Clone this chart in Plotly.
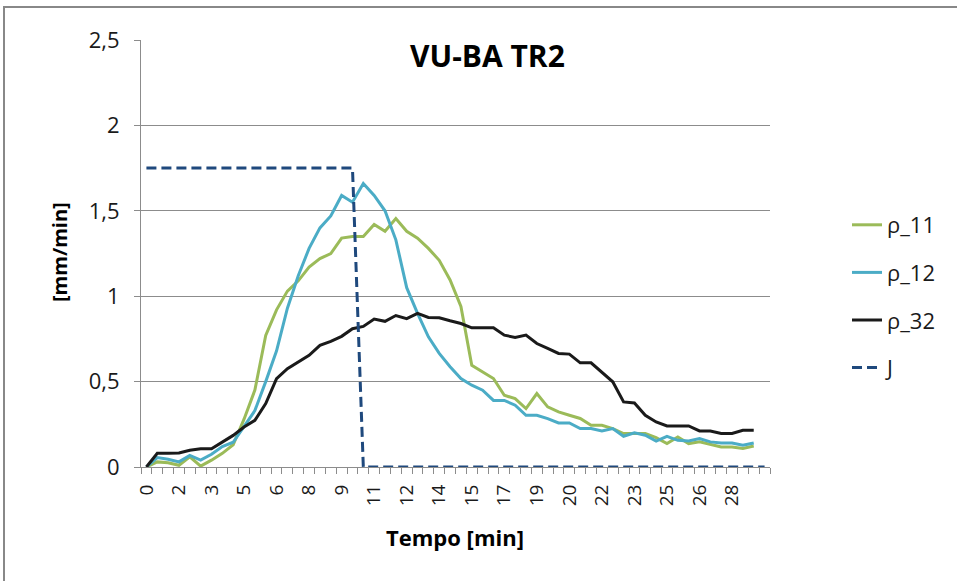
import plotly.graph_objects as go

# category positions (0..57) with tick labels every 3rd category
tick_positions = [0, 3, 6, 9, 12, 15, 18, 21, 24, 27, 30, 33, 36, 39, 42, 45, 48, 51, 54]
tick_labels = ["0", "2", "3", "5", "6", "8", "9", "11", "12", "14", "15", "17", "19",
               "20", "22", "23", "25", "26", "28"]

rho_11 = [0, 0.03, 0.025, 0.01, 0.06, 0.005, 0.04, 0.08, 0.13, 0.28,
          0.45, 0.77, 0.92, 1.03, 1.09, 1.17, 1.22, 1.25, 1.34, 1.35,
          1.35, 1.42, 1.38, 1.455, 1.38, 1.34, 1.28, 1.21, 1.095, 0.94,
          0.596, 0.557, 0.518, 0.42, 0.40, 0.342, 0.43, 0.352, 0.323, 0.303,
          0.284, 0.244, 0.244, 0.225, 0.196, 0.196, 0.196, 0.172, 0.137, 0.176,
          0.137, 0.147, 0.131, 0.117, 0.117, 0.108, 0.123]

rho_12 = [0, 0.055, 0.045, 0.03, 0.068, 0.04, 0.075, 0.12, 0.145, 0.24,
          0.33, 0.5, 0.68, 0.93, 1.12, 1.28, 1.40, 1.47, 1.59, 1.55,
          1.66, 1.59, 1.50, 1.33, 1.05, 0.90, 0.762, 0.665, 0.587, 0.518,
          0.479, 0.45, 0.39, 0.39, 0.362, 0.303, 0.303, 0.283, 0.258, 0.258,
          0.225, 0.225, 0.211, 0.225, 0.18, 0.20, 0.186, 0.152, 0.18, 0.156,
          0.152, 0.166, 0.147, 0.141, 0.141, 0.127, 0.141]

rho_32 = [0, 0.08, 0.08, 0.082, 0.098, 0.107, 0.107, 0.146, 0.185, 0.234,
          0.273, 0.371, 0.517, 0.576, 0.615, 0.654, 0.712, 0.735, 0.765, 0.81,
          0.823, 0.866, 0.853, 0.887, 0.869, 0.90, 0.876, 0.874, 0.856, 0.84,
          0.815, 0.815, 0.815, 0.772, 0.759, 0.772, 0.723, 0.694, 0.665, 0.661,
          0.61, 0.61, 0.557, 0.499, 0.381, 0.375, 0.303, 0.264, 0.24, 0.24,
          0.24, 0.211, 0.211, 0.196, 0.196, 0.215, 0.215]

J = [1.75, 1.75, 1.75, 1.75, 1.75, 1.75, 1.75, 1.75, 1.75, 1.75,
     1.75, 1.75, 1.75, 1.75, 1.75, 1.75, 1.75, 1.75, 1.75, 1.75,
     0, 0, 0, 0, 0, 0, 0, 0, 0, 0,
     0, 0, 0, 0, 0, 0, 0, 0, 0, 0,
     0, 0, 0, 0, 0, 0, 0, 0, 0, 0,
     0, 0, 0, 0, 0, 0, 0, 0]

FONT = "Open Sans"
GRID = "#8C8C8C"

fig = go.Figure()
series = [
    ("ρ_11", rho_11, "#9BBB59", "solid"),
    ("ρ_12", rho_12, "#4BACC6", "solid"),
    ("ρ_32", rho_32, "#1A1A1A", "solid"),
    ("J", J, "#1F497D", "10px,5px"),
]
for name, vals, col, dash in series:
    fig.add_trace(go.Scatter(
        x=list(range(len(vals))), y=vals, mode="lines", name=name,
        legendgroup=name,
        line=dict(color=col, width=3, dash=dash),
    ))

L, R, T, B = 141, 187, 40, 114
W, H = 957, 581
pw, ph = W - L - R, H - T - B

def px(xp):
    return (xp - L) / pw

def py(yp):
    return (H - B - yp) / ph

fig.update_layout(
    width=W, height=H,
    margin=dict(l=L, r=R, t=T, b=B, pad=0),
    paper_bgcolor="white", plot_bgcolor="white",
    separators=",.",
    font=dict(family=FONT, size=19, color="#1A1A1A"),
    showlegend=True,
    legend=dict(x=px(847), y=py(204), xanchor="left", yanchor="top",
                font=dict(family=FONT, size=22, color="#1A1A1A"),
                tracegroupgap=16, bgcolor="rgba(0,0,0,0)"),
    xaxis=dict(
        range=[-0.5, 57.5], tickmode="array", tickvals=tick_positions,
        ticktext=tick_labels, tickangle=-90, ticks="outside", ticklen=9,
        tickcolor="rgba(0,0,0,0)", showgrid=False, zeroline=False,
        showline=True, linecolor=GRID, linewidth=1,
        tickfont=dict(family=FONT, size=19, color="#1A1A1A"),
        minor=dict(tickmode="linear", tick0=-0.5, dtick=1, ticks="outside",
                   ticklen=6, tickcolor=GRID, showgrid=False),
    ),
    yaxis=dict(
        range=[0, 2.5001], tickmode="linear", tick0=0, dtick=0.5,
        ticks="outside", ticklen=6, tickcolor=GRID, ticklabelstandoff=10,
        showgrid=True, gridcolor=GRID, gridwidth=1, zeroline=False,
        showline=True, linecolor=GRID, linewidth=1,
        tickfont=dict(family=FONT, size=22, color="#1A1A1A"),
    ),
    annotations=[
        dict(text="<b>VU-BA TR2</b>", x=px(487), y=py(55), xref="paper", yref="paper",
             showarrow=False, xanchor="center", yanchor="middle",
             font=dict(family=FONT, size=30, color="#000000")),
        dict(text="<b>[mm/min]</b>", x=px(59), y=py(252), xref="paper", yref="paper",
             showarrow=False, xanchor="center", yanchor="middle", textangle=-90,
             font=dict(family=FONT, size=20, color="#000000")),
        dict(text="<b>Tempo [min]</b>", x=px(455), y=py(537), xref="paper", yref="paper",
             showarrow=False, xanchor="center", yanchor="middle",
             font=dict(family=FONT, size=22, color="#000000")),
    ],
    shapes=[
        dict(type="rect", xref="paper", yref="paper",
             x0=px(4), x1=px(962), y0=py(590), y1=py(7),
             line=dict(color="#888888", width=2), fillcolor="rgba(0,0,0,0)", layer="below"),
    ],
)

fig.write_html("out.html")
